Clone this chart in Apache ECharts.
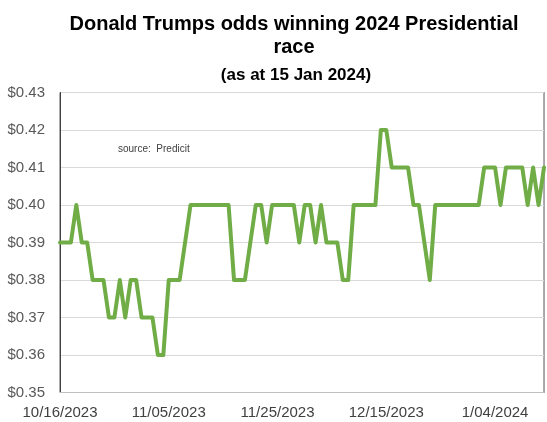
<!DOCTYPE html>
<html>
<head>
<meta charset="utf-8">
<script src="https://cdn.jsdelivr.net/npm/echarts@6/dist/echarts.min.js"></script>
<style>
  html, body { margin: 0; padding: 0; background: #fff; }
  #chart { width: 547px; height: 422px; }
</style>
</head>
<body>
<div id="chart"></div>
<script>
// Daily PredictIt price for Donald Trump winning the 2024 presidential race
var startDate = [2023, 10, 16];   // first trading day shown (y, m, d)
var odds = [
  0.39, 0.39, 0.39, 0.40, 0.39, 0.39, 0.38, 0.38, 0.38, 0.37,
  0.37, 0.38, 0.37, 0.38, 0.38, 0.37, 0.37, 0.37, 0.36, 0.36,
  0.38, 0.38, 0.38, 0.39, 0.40, 0.40, 0.40, 0.40, 0.40, 0.40,
  0.40, 0.40, 0.38, 0.38, 0.38, 0.39, 0.40, 0.40, 0.39, 0.40,
  0.40, 0.40, 0.40, 0.40, 0.39, 0.40, 0.40, 0.39, 0.40, 0.39,
  0.39, 0.39, 0.38, 0.38, 0.40, 0.40, 0.40, 0.40, 0.40, 0.42,
  0.42, 0.41, 0.41, 0.41, 0.41, 0.40, 0.40, 0.39, 0.38, 0.40,
  0.40, 0.40, 0.40, 0.40, 0.40, 0.40, 0.40, 0.40, 0.41, 0.41,
  0.41, 0.40, 0.41, 0.41, 0.41, 0.41, 0.40, 0.41, 0.40, 0.41
];
var yTicks = [0.35, 0.36, 0.37, 0.38, 0.39, 0.40, 0.41, 0.42, 0.43];
var labelEvery = 20;   // a date label every 20 days

// one category per day, formatted M/DD/YYYY
var dates = [];
for (var i = 0; i < odds.length; i++) {
  var d = new Date(startDate[0], startDate[1] - 1, startDate[2] + i);
  var dd = d.getDate();
  dates.push((d.getMonth() + 1) + '/' + (dd < 10 ? '0' + dd : dd) + '/' + d.getFullYear());
}

var FONT = '"Liberation Sans", Arial, sans-serif';
var chart = echarts.init(document.getElementById('chart'), null, { renderer: 'canvas' });

chart.setOption({
  animation: false,
  backgroundColor: '#ffffff',
  grid: {
    left: 60, right: 3, top: 92.5, bottom: 29.5,
    show: true, borderColor: '#595959', borderWidth: 1, backgroundColor: 'transparent'
  },
  graphic: [
    { type: 'text', x: 294, y: 24, style: { text: 'Donald Trumps odds winning 2024 Presidential', font: 'bold 20px ' + FONT, fill: '#000', textAlign: 'center', textVerticalAlign: 'middle' } },
    { type: 'text', x: 294, y: 47, style: { text: 'race', font: 'bold 20px ' + FONT, fill: '#000', textAlign: 'center', textVerticalAlign: 'middle' } },
    { type: 'text', x: 296, y: 75, style: { text: '(as at 15 Jan 2024)', font: 'bold 17px ' + FONT, fill: '#000', textAlign: 'center', textVerticalAlign: 'middle' } },
    { type: 'text', x: 118, y: 149, style: { text: 'source:  Predicit', font: '10px ' + FONT, fill: '#404040', textAlign: 'left', textVerticalAlign: 'middle' } }
  ],
  xAxis: {
    type: 'category',
    data: dates,
    boundaryGap: false,
    axisLine: { show: true, lineStyle: { color: '#BFBFBF', width: 1 } },
    axisTick: { show: false },
    splitLine: { show: false },
    axisLabel: {
      interval: function (index) { return index % labelEvery === 0; },
      hideOverlap: false,
      margin: 13,
      color: '#404040',
      fontSize: 15,
      fontFamily: FONT
    }
  },
  yAxis: [{
    type: 'value',
    min: yTicks[0],
    max: yTicks[yTicks.length - 1],
    interval: 0.01,
    axisLine: { show: true, lineStyle: { color: '#404040', width: 1 } },
    axisTick: { show: false },
    splitLine: { show: true, lineStyle: { color: '#D9D9D9', width: 1 } },
    axisLabel: {
      margin: 15,
      color: '#595959',
      fontSize: 15,
      fontFamily: FONT,
      formatter: function (v) { return '$' + v.toFixed(2); }
    }
  }, {
    type: 'value',
    position: 'right',
    min: yTicks[0],
    max: yTicks[yTicks.length - 1],
    interval: 0.01,
    axisLine: { show: true, lineStyle: { color: '#A6A6A6', width: 1 } },
    axisTick: { show: false },
    axisLabel: { show: false },
    splitLine: { show: false }
  }],
  series: [{
    type: 'line',
    data: odds,
    yAxisIndex: 0,
    symbol: 'none',
    lineStyle: { color: '#70AD47', width: 4, join: 'round', cap: 'round' },
    z: 3
  }]
});
</script>
</body>
</html>
